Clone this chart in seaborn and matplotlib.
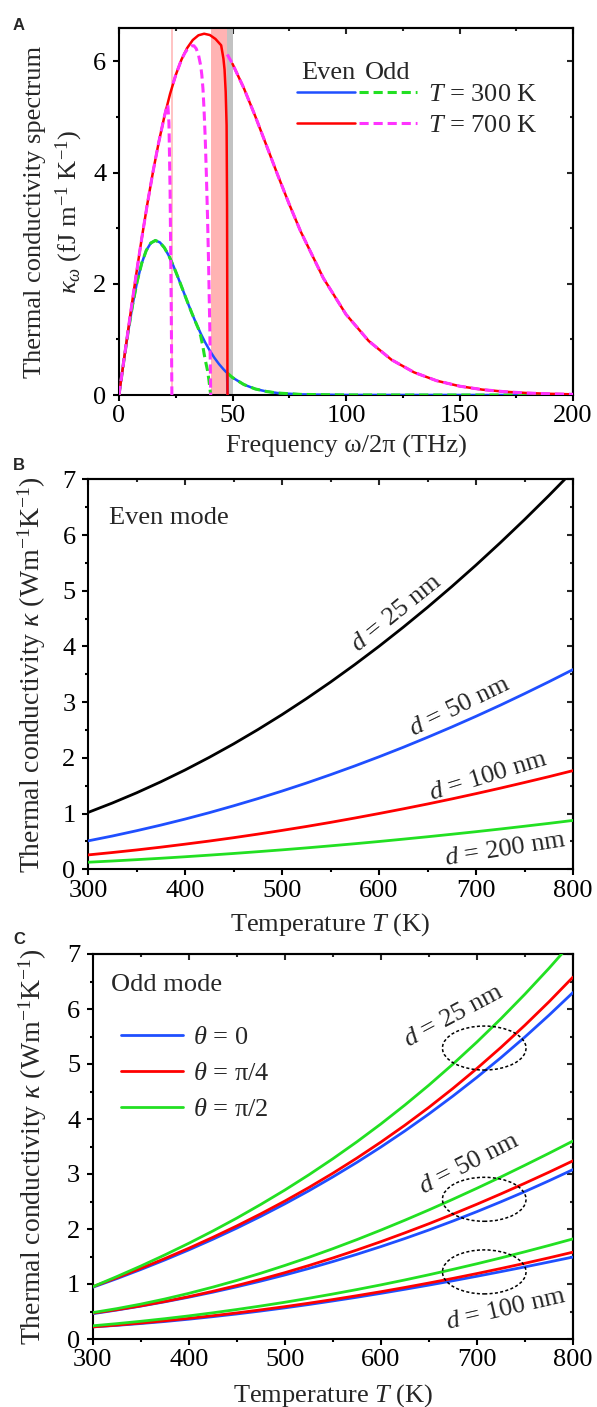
import numpy as np
import pandas as pd
import matplotlib
matplotlib.use("Agg")
import matplotlib.pyplot as plt
import seaborn as sns
from matplotlib.patches import Ellipse
from matplotlib.legend_handler import HandlerTuple
from matplotlib.ticker import MultipleLocator

nan = np.nan

# ---------------- Panel A data (frequency in THz, spectrum in fJ m^-1 K^-1) -------------
freq_even_300 = [0, 2, 4, 6, 8, 10, 12, 14, 16, 18, 20, 22, 24, 26, 28, 30, 32, 34, 36, 38,
                 40, 42, 44, 46, 47, 47.6, 47.8, nan, 50, 55, 60, 65, 70, 80, 100, 150, 200]
kappa_even_300 = [0, 0.579, 1.128, 1.622, 2.040, 2.368, 2.599, 2.733, 2.779, 2.745, 2.648,
                  2.501, 2.319, 2.115, 1.902, 1.689, 1.481, 1.286, 1.106, 0.943, 0.798, 0.670,
                  0.559, 0.464, 0.421, 0.40, 0.0, nan, 0.314, 0.188, 0.109, 0.063, 0.035,
                  0.011, 0.001, 0.0, 0.0]

freq_odd_300 = [0, 2, 4, 6, 8, 10, 12, 14, 16, 18, 20, 22, 24, 26, 28, 30, 32, 34, 35, 36,
                37, 37.5, 38, 39, 39.6, 40.1, 40.4, nan, 47.7, 50, 55, 60, 65, 70, 80, 100,
                150, 200]
kappa_odd_300 = [0, 0.579, 1.128, 1.622, 2.040, 2.368, 2.599, 2.733, 2.779, 2.745, 2.648,
                 2.501, 2.319, 2.115, 1.902, 1.689, 1.481, 1.286, 1.19, 1.06, 0.86, 0.74,
                 0.63, 0.44, 0.27, 0.10, 0.0, nan, 0.394, 0.314, 0.188, 0.109, 0.063, 0.035,
                 0.011, 0.001, 0.0, 0.0]

freq_even_700 = [0, 2.5, 5, 7.5, 10, 12.5, 15, 17.5, 20, 22.5, 25, 27.5, 30, 32.5, 35, 37.5,
                 40, 42.5, 45, 46, 46.5, 47, 47.4, 47.6, 47.7, 47.8, nan, 50, 55, 60, 65, 70,
                 75, 80, 90, 100, 110, 120, 130, 140, 150, 160, 170, 180, 190, 200]
kappa_even_700 = [0, 0.729, 1.448, 2.145, 2.812, 3.439, 4.019, 4.543, 5.011, 5.415, 5.755,
                  6.030, 6.238, 6.384, 6.469, 6.497, 6.474, 6.403, 6.289, 6.05, 5.85, 5.45,
                  4.85, 3.4, 1.5, 0.0, nan, 5.956, 5.518, 5.016, 4.483, 3.947, 3.430, 2.943,
                  2.103, 1.450, 0.972, 0.635, 0.407, 0.256, 0.159, 0.097, 0.059, 0.035,
                  0.021, 0.012]

freq_odd_700 = [0, 2.5, 5, 7.5, 10, 12.5, 15, 17.5, 20, 21, 21.5, 22, 22.5, 23, 23.3, nan,
                23.8, 25, 27.5, 29, 30, 31, 32, 33, 34, 35, 36, 36.5, 37, 37.5, 38, 38.5,
                39, 39.5, 40, 40.4, nan, 47.7, 50, 55, 60, 65, 70, 75, 80, 90, 100, 110,
                120, 130, 140, 150, 160, 170, 180, 190, 200]
kappa_odd_700 = [0, 0.729, 1.448, 2.145, 2.812, 3.439, 4.019, 4.543, 5.011, 5.181, 5.22,
                 4.90, 3.70, 1.60, 0.0, nan, 5.60, 5.755, 6.03, 6.15, 6.21, 6.25, 6.28, 6.28,
                 6.23, 6.12, 5.92, 5.75, 5.50, 5.10, 4.60, 3.95, 3.20, 2.30, 1.20, 0.0, nan,
                 6.124, 5.956, 5.518, 5.016, 4.483, 3.947, 3.430, 2.943, 2.103, 1.450, 0.972,
                 0.635, 0.407, 0.256, 0.159, 0.097, 0.059, 0.035, 0.021, 0.012]

# frequency gaps shaded in panel A (start, end) in THz
gap_narrow = (22.9, 23.7)
gap_odd = (40.4, 47.5)
gap_even = (47.5, 50.0)

# ---------------- Panel B / C data (temperature in K, kappa in W m^-1 K^-1) -------------
temperature = [300, 325, 350, 375, 400, 425, 450, 475, 500, 525, 550, 575, 600, 625, 650,
               675, 700, 725, 750, 775, 800]

kappa_even_d25 = [1.020, 1.189, 1.372, 1.570, 1.782, 2.009, 2.250, 2.506, 2.776, 3.061,
                  3.360, 3.674, 4.002, 4.345, 4.702, 5.074, 5.460, 5.861, 6.276, 6.706, 7.150]
kappa_even_d50 = [0.510, 0.597, 0.692, 0.793, 0.901, 1.016, 1.139, 1.268, 1.404, 1.547,
                  1.698, 1.855, 2.019, 2.190, 2.369, 2.554, 2.746, 2.945, 3.152, 3.365, 3.585]
kappa_even_d100 = [0.258, 0.301, 0.347, 0.397, 0.451, 0.507, 0.567, 0.631, 0.698, 0.768,
                   0.842, 0.920, 1.001, 1.085, 1.172, 1.263, 1.358, 1.456, 1.558, 1.662, 1.771]
kappa_even_d200 = [0.127, 0.149, 0.173, 0.198, 0.225, 0.254, 0.284, 0.316, 0.349, 0.384,
                   0.421, 0.459, 0.499, 0.541, 0.584, 0.629, 0.675, 0.723, 0.773, 0.824, 0.877]

kappa_odd_d25_t0 = [0.940, 1.097, 1.263, 1.437, 1.620, 1.813, 2.016, 2.231, 2.457, 2.695,
                    2.947, 3.211, 3.490, 3.783, 4.092, 4.417, 4.758, 5.116, 5.492, 5.887, 6.300]
kappa_odd_d25_t45 = [0.950, 1.113, 1.284, 1.462, 1.650, 1.848, 2.056, 2.276, 2.508, 2.754,
                     3.014, 3.289, 3.580, 3.887, 4.212, 4.556, 4.919, 5.302, 5.706, 6.131,
                     6.580]
kappa_odd_d25_t90 = [0.950, 1.134, 1.326, 1.528, 1.740, 1.963, 2.198, 2.447, 2.708, 2.985,
                     3.277, 3.585, 3.910, 4.254, 4.616, 4.998, 5.400, 5.824, 6.271, 6.740,
                     7.234]
kappa_odd_d50_t0 = [0.460, 0.526, 0.598, 0.676, 0.760, 0.851, 0.949, 1.053, 1.164, 1.282,
                    1.408, 1.540, 1.680, 1.827, 1.982, 2.145, 2.316, 2.495, 2.681, 2.877, 3.080]
kappa_odd_d50_t45 = [0.470, 0.532, 0.602, 0.682, 0.770, 0.867, 0.972, 1.085, 1.206, 1.336,
                     1.473, 1.618, 1.770, 1.930, 2.096, 2.270, 2.451, 2.639, 2.833, 3.033,
                     3.240]
kappa_odd_d50_t90 = [0.480, 0.552, 0.634, 0.727, 0.830, 0.943, 1.065, 1.196, 1.337, 1.485,
                     1.642, 1.807, 1.980, 2.160, 2.347, 2.541, 2.741, 2.947, 3.160, 3.377,
                     3.600]
kappa_odd_d100_t0 = [0.220, 0.248, 0.281, 0.318, 0.360, 0.406, 0.455, 0.509, 0.566, 0.627,
                     0.692, 0.759, 0.830, 0.904, 0.980, 1.059, 1.141, 1.225, 1.311, 1.400,
                     1.490]
kappa_odd_d100_t45 = [0.220, 0.253, 0.290, 0.331, 0.375, 0.423, 0.474, 0.530, 0.588, 0.651,
                      0.717, 0.787, 0.860, 0.937, 1.018, 1.102, 1.190, 1.282, 1.377, 1.476,
                      1.579]
kappa_odd_d100_t90 = [0.240, 0.279, 0.322, 0.369, 0.420, 0.476, 0.536, 0.600, 0.668, 0.741,
                      0.818, 0.899, 0.984, 1.074, 1.168, 1.266, 1.368, 1.475, 1.586, 1.701,
                      1.820]

legend_a = ["$T$ = 300 K", "$T$ = 700 K"]
legend_c = ["$\\theta$ = 0", "$\\theta$ = π/4", "$\\theta$ = π/2"]

# annotations: (text, T, kappa, rotation deg)
labels_b = [("$d$ = 25 nm", 618.6, 4.60, 39), ("$d$ = 50 nm", 683.5, 2.92, 26),
            ("$d$ = 100 nm", 713, 1.66, 17), ("$d$ = 200 nm", 730.6, 0.35, 9)]
labels_c = [("$d$ = 25 nm", 676, 5.86, 28), ("$d$ = 50 nm", 692, 3.19, 27),
            ("$d$ = 100 nm", 730, 0.53, 13)]
ellipse_centers_c = [(707.6, 5.29), (707.6, 2.54), (707.6, 1.22)]

# ---------------- style ----------------
sns.set_theme(style="ticks")
plt.rcParams["font.family"] = ["Liberation Serif", "DejaVu Serif"]
plt.rcParams["mathtext.fontset"] = "custom"
plt.rcParams["mathtext.rm"] = "Liberation Serif"
plt.rcParams["mathtext.it"] = "Liberation Serif:italic"
plt.rcParams["mathtext.bf"] = "Liberation Serif:bold"
plt.rcParams["axes.unicode_minus"] = True

FS = 19
BLUE = "#1f4fff"
GREEN = "#22e022"
RED = "#ff0000"
MAGENTA = "#ff33ff"
BLACK = "#000000"
DASH = (0, (3, 1.6))

fig = plt.figure(figsize=(5.97, 14.07), dpi=100)
axA = fig.add_axes([119 / 597, 1 - 395 / 1407, 454 / 597, 367 / 1407])
axB = fig.add_axes([88 / 597, 1 - 869.3 / 1407, 485 / 597, 390 / 1407])
axC = fig.add_axes([92.7 / 597, 1 - 1339 / 1407, 480.3 / 597, 385 / 1407])


def draw(ax, x, y, color, ls="-", lw=2.0, zorder=3):
    xs = np.asarray(x, float)
    ys = np.asarray(y, float)
    bad = np.isnan(xs) | np.isnan(ys)
    handle = None
    start = 0
    cuts = list(np.flatnonzero(bad)) + [len(xs)]
    for c in cuts:
        if c - start >= 2:
            df = pd.DataFrame({"x": xs[start:c], "y": ys[start:c]})
            sns.lineplot(data=df, x="x", y="y", ax=ax, color=color, linewidth=lw,
                         linestyle=ls, estimator=None, sort=False, zorder=zorder)
            if handle is None:
                handle = ax.lines[-1]
        start = c + 1
    return handle


def style_axes(ax, xmaj, xmin, ymaj, ymin):
    for s in ax.spines.values():
        s.set_linewidth(1.5)
        s.set_color("black")
    ax.xaxis.set_major_locator(MultipleLocator(xmaj))
    ax.xaxis.set_minor_locator(MultipleLocator(xmin))
    ax.yaxis.set_major_locator(MultipleLocator(ymaj))
    ax.yaxis.set_minor_locator(MultipleLocator(ymin))
    ax.tick_params(which="both", direction="out", top=False, right=False, width=1.5,
                   colors="black", labelsize=FS)
    ax.tick_params(axis="x", which="major", length=4.5, pad=3)
    ax.tick_params(axis="y", which="major", length=4.5, pad=4.5)
    ax.tick_params(which="minor", length=2.5)
    top = ax.secondary_xaxis("top")
    top.xaxis.set_major_locator(MultipleLocator(xmaj))
    top.xaxis.set_minor_locator(MultipleLocator(xmin))
    top.tick_params(which="both", direction="in", labeltop=False, width=1.5)
    top.tick_params(which="major", length=4.5)
    top.tick_params(which="minor", length=2.5)
    top.spines["top"].set_linewidth(1.5)
    right = ax.secondary_yaxis("right")
    right.yaxis.set_major_locator(MultipleLocator(ymaj))
    right.yaxis.set_minor_locator(MultipleLocator(ymin))
    right.tick_params(which="both", direction="in", labelright=False, width=1.5)
    right.tick_params(which="major", length=4.5)
    right.tick_params(which="minor", length=2.5)
    right.spines["right"].set_linewidth(1.5)
    ax.grid(False)


# ---------------- Panel A ----------------
axA.axvspan(*gap_narrow, color="#ffc4c4", lw=0, zorder=1)
axA.axvspan(*gap_odd, color="#ffb3b3", lw=0, zorder=1)
axA.axvspan(*gap_even, color="#c2c2c2", lw=0, zorder=1)
hb = draw(axA, freq_even_300, kappa_even_300, BLUE, lw=1.8)
hg = draw(axA, freq_odd_300, kappa_odd_300, GREEN, ls=DASH, lw=2.2)
hr = draw(axA, freq_even_700, kappa_even_700, RED, lw=1.8)
hm = draw(axA, freq_odd_700, kappa_odd_700, MAGENTA, ls=DASH, lw=2.2)
axA.set_xlim(0, 200)
axA.set_ylim(0, 6.6)
style_axes(axA, 50, 25, 2, 1)
axA.set_xlabel("Frequency ω/2π (THz)", fontsize=FS)
axA.set_ylabel("Thermal conductivity spectrum\n$\\kappa_\\omega$ (fJ m$^{-1}$ K$^{-1}$)",
               fontsize=FS, linespacing=1.35)
axA.xaxis.set_label_coords(0.5, -0.11)
axA.yaxis.set_label_coords(-0.075, 0.5)
axA.legend([(hb, hg), (hr, hm)], legend_a,
           handler_map={tuple: HandlerTuple(ndivide=None, pad=0.15)},
           loc="upper left", bbox_to_anchor=(0.392, 0.851), frameon=False,
           handlelength=4.55, handletextpad=0.42, borderpad=0, borderaxespad=0,
           labelspacing=0.27, fontsize=FS)
axA.text(0.461, 0.878, "Even", transform=axA.transAxes, ha="center", va="center",
         fontsize=FS)
axA.text(0.5925, 0.878, "Odd", transform=axA.transAxes, ha="center", va="center",
         fontsize=FS)

# ---------------- Panel B ----------------
draw(axB, temperature, kappa_even_d25, BLACK, lw=2.0)
draw(axB, temperature, kappa_even_d50, BLUE, lw=2.0)
draw(axB, temperature, kappa_even_d100, RED, lw=2.0)
draw(axB, temperature, kappa_even_d200, GREEN, lw=2.0)
axB.set_xlim(300, 800)
axB.set_ylim(0, 7)
style_axes(axB, 100, 50, 1, 0.5)
axB.set_xlabel("Temperature $T$ (K)", fontsize=FS)
axB.set_ylabel("Thermal conductivity $\\kappa$ (Wm$^{-1}$K$^{-1}$)", fontsize=20)
axB.xaxis.set_label_coords(0.5, -0.108)
axB.yaxis.set_label_coords(-0.083, 0.5)
axB.text(0.043, 0.90, "Even mode", transform=axB.transAxes, ha="left", va="center",
         fontsize=FS)
for txt, tx, ty, rot in labels_b:
    axB.text(tx, ty, txt, rotation=rot, rotation_mode="anchor", ha="center", va="center",
             fontsize=FS)

# ---------------- Panel C ----------------
theta_colors = [BLUE, RED, GREEN]
groups = [[kappa_odd_d25_t0, kappa_odd_d25_t45, kappa_odd_d25_t90],
          [kappa_odd_d50_t0, kappa_odd_d50_t45, kappa_odd_d50_t90],
          [kappa_odd_d100_t0, kappa_odd_d100_t45, kappa_odd_d100_t90]]
handles_c = []
for gi, grp in enumerate(groups):
    for ci, series in enumerate(grp):
        h = draw(axC, temperature, series, theta_colors[ci], lw=2.0)
        if gi == 0:
            handles_c.append(h)
axC.set_xlim(300, 800)
axC.set_ylim(0, 7)
style_axes(axC, 100, 50, 1, 0.5)
axC.set_xlabel("Temperature $T$ (K)", fontsize=FS)
axC.set_ylabel("Thermal conductivity $\\kappa$ (Wm$^{-1}$K$^{-1}$)", fontsize=20)
axC.xaxis.set_label_coords(0.5, -0.112)
axC.yaxis.set_label_coords(-0.09, 0.5)
axC.text(0.0375, 0.92, "Odd mode", transform=axC.transAxes, ha="left", va="center",
         fontsize=FS)
axC.legend(handles_c, legend_c, loc="upper left", bbox_to_anchor=(0.059, 0.814),
           frameon=False, handlelength=2.35, handletextpad=0.38, borderpad=0,
           borderaxespad=0, labelspacing=0.48, fontsize=FS)
for txt, tx, ty, rot in labels_c:
    axC.text(tx, ty, txt, rotation=rot, rotation_mode="anchor", ha="center", va="center",
             fontsize=FS)
for cx, cy in ellipse_centers_c:
    axC.add_patch(Ellipse((cx, cy), 87, 0.8, fill=False, edgecolor="black",
                          linestyle=(0, (2, 1.5)), linewidth=1.1, zorder=4))

# panel letters
for letter, ypix in [("A", 18), ("B", 458), ("C", 932)]:
    fig.text(13 / 597, 1 - ypix / 1407, letter, ha="left", va="top", fontsize=12,
             fontweight="bold", family=["Liberation Sans", "DejaVu Sans"])

fig.savefig("out.png", dpi=100)
